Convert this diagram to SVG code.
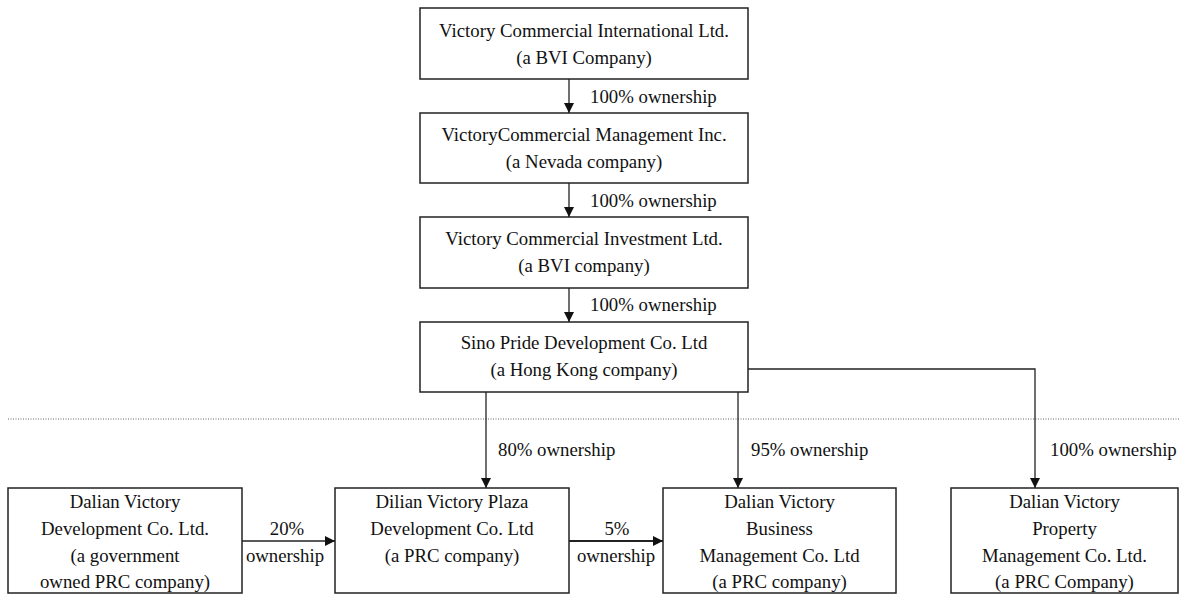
<svg xmlns="http://www.w3.org/2000/svg" width="1179" height="594" viewBox="0 0 1179 594">
<style>
.box{fill:#fff;stroke:#222;stroke-width:1.5}
text{font-family:'Liberation Serif','Times New Roman',serif;font-size:18.8px;fill:#111}
.c{text-anchor:middle}
.ln{fill:none;stroke:#222;stroke-width:1.3}
.dot{stroke:#666;stroke-width:1;stroke-dasharray:1,1.5}
</style>
<defs>
<marker id="ah" markerUnits="userSpaceOnUse" markerWidth="10" markerHeight="12" viewBox="0 0 10 12" refX="10" refY="6" orient="auto">
<path d="M0,1 L10,6 L0,11 Z" fill="#111"/>
</marker>
</defs>
<rect x="0" y="0" width="1179" height="594" fill="#fff"/>
<line class="dot" x1="8" y1="419" x2="1179" y2="419"/>
<g id="n1"><rect class="box" x="420" y="8" width="328" height="71"/><text class="c" x="584" y="37">Victory Commercial International Ltd.</text><text class="c" x="584" y="64">(a BVI Company)</text></g>
<g id="n2"><rect class="box" x="420" y="113" width="328" height="70"/><text class="c" x="584" y="141">VictoryCommercial Management Inc.</text><text class="c" x="584" y="168">(a Nevada company)</text></g>
<g id="n3"><rect class="box" x="420" y="217" width="328" height="71"/><text class="c" x="584" y="245">Victory Commercial Investment Ltd.</text><text class="c" x="584" y="272">(a BVI company)</text></g>
<g id="n4"><rect class="box" x="420" y="322" width="328" height="70"/><text class="c" x="584" y="349">Sino Pride Development Co. Ltd</text><text class="c" x="584" y="376">(a Hong Kong company)</text></g>
<g id="n5"><rect class="box" x="8" y="488" width="234" height="105"/><text class="c" x="125" y="508">Dalian Victory</text><text class="c" x="125" y="535">Development Co. Ltd.</text><text class="c" x="125" y="562">(a government</text><text class="c" x="125" y="588">owned PRC company)</text></g>
<g id="n6"><rect class="box" x="335" y="488" width="234" height="105"/><text class="c" x="452" y="508">Dilian Victory Plaza</text><text class="c" x="452" y="535">Development Co. Ltd</text><text class="c" x="452" y="562">(a PRC company)</text></g>
<g id="n7"><rect class="box" x="663" y="488" width="233" height="105"/><text class="c" x="779.5" y="508">Dalian Victory</text><text class="c" x="779.5" y="535">Business</text><text class="c" x="779.5" y="562">Management Co. Ltd</text><text class="c" x="779.5" y="588">(a PRC company)</text></g>
<g id="n8"><rect class="box" x="951" y="488" width="227" height="105"/><text class="c" x="1064.5" y="508">Dalian Victory</text><text class="c" x="1064.5" y="535">Property</text><text class="c" x="1064.5" y="562">Management Co. Ltd.</text><text class="c" x="1064.5" y="588">(a PRC Company)</text></g>
<g id="connectors">
<line class="ln" x1="569" y1="79" x2="569" y2="113" marker-end="url(#ah)"/>
<line class="ln" x1="569" y1="183" x2="569" y2="217" marker-end="url(#ah)"/>
<line class="ln" x1="569" y1="288" x2="569" y2="322" marker-end="url(#ah)"/>
<line class="ln" x1="486" y1="392" x2="486" y2="488" marker-end="url(#ah)"/>
<line class="ln" x1="738" y1="392" x2="738" y2="488" marker-end="url(#ah)"/>
<polyline class="ln" points="748,369 1035,369 1035,488" marker-end="url(#ah)"/>
<line class="ln" x1="242" y1="541" x2="335" y2="541" marker-end="url(#ah)"/>
<line class="ln" x1="569" y1="541" x2="663" y2="541" style="stroke-width:2.2" marker-end="url(#ah)"/>
<text x="590" y="103">100% ownership</text>
<text x="590" y="207">100% ownership</text>
<text x="590" y="311">100% ownership</text>
<text x="498" y="456">80% ownership</text>
<text x="751" y="456">95% ownership</text>
<text x="1050" y="456">100% ownership</text>
<text class="c" x="287" y="535">20%</text>
<text class="c" x="285" y="562">ownership</text>
<text class="c" x="617" y="535">5%</text>
<text class="c" x="616" y="562">ownership</text>
</g>
</svg>
